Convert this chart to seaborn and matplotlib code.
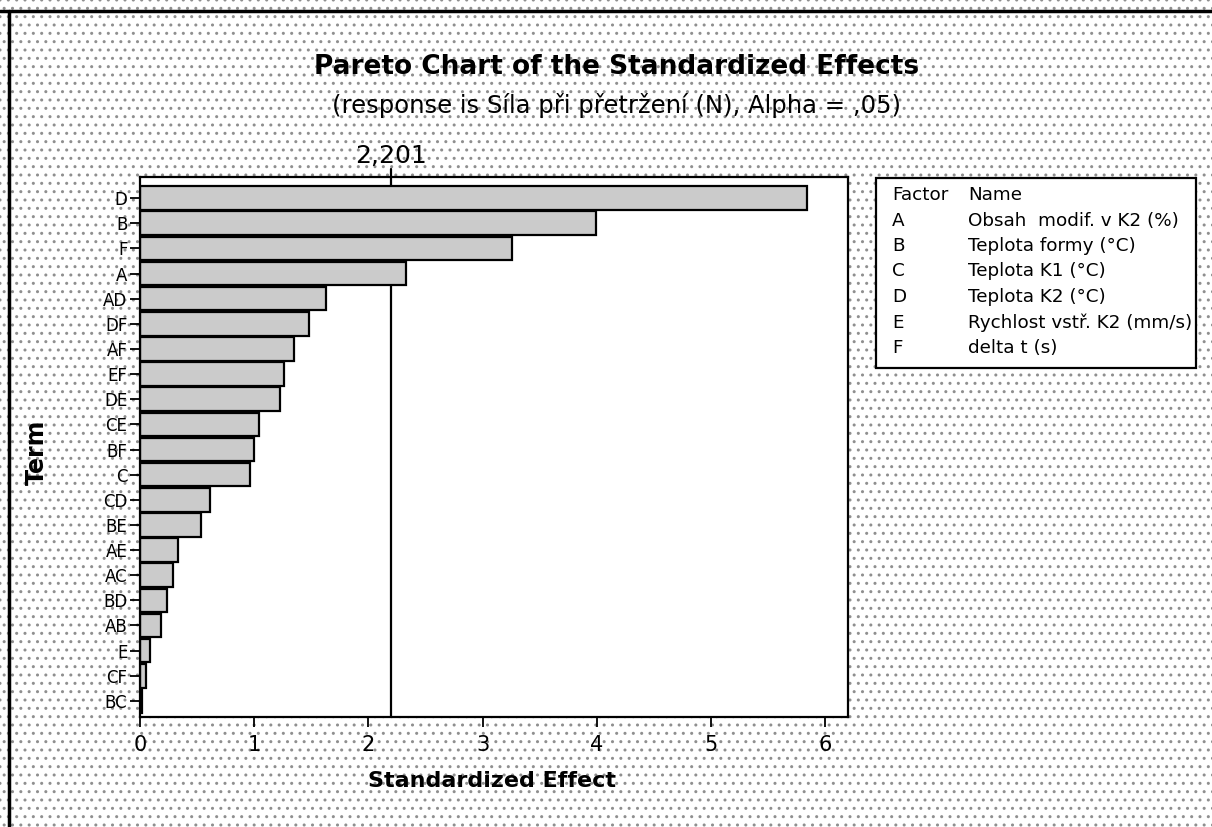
import matplotlib.pyplot as plt
import matplotlib.patches as mpatches
import matplotlib.lines as mlines
import seaborn as sns

sns.set_style("white")
plt.rcParams["font.family"] = ["DejaVu Sans"]
plt.rcParams["text.color"] = "black"
plt.rcParams["axes.labelcolor"] = "black"
plt.rcParams["xtick.color"] = "black"
plt.rcParams["ytick.color"] = "black"
plt.rcParams["hatch.linewidth"] = 1.0

# standardized effects, sorted as in the Pareto chart
TERMS = ["D", "B", "F", "A", "AD", "DF", "AF", "EF", "DE", "CE", "BF",
         "C", "CD", "BE", "AE", "AC", "BD", "AB", "E", "CF", "BC"]
EFFECTS = [5.84, 3.99, 3.26, 2.33, 1.63, 1.48, 1.35, 1.26, 1.23, 1.04, 1.00,
           0.96, 0.61, 0.53, 0.33, 0.29, 0.24, 0.18, 0.09, 0.05, 0.02]
CRIT_VALUE = 2.201

FACTORS = ["A", "B", "C", "D", "E", "F"]
FACTOR_NAMES = ["Obsah  modif. v K2 (%)", "Teplota formy (°C)", "Teplota K1 (°C)",
                "Teplota K2 (°C)", "Rychlost vstř. K2 (mm/s)", "delta t (s)"]

W, H = 1212, 827
fig = plt.figure(figsize=(W / 100, H / 100), dpi=100)

# stippled background like the original Minitab export
bg = mpatches.Rectangle((0, 0), 1, 1, transform=fig.transFigure,
                        facecolor="white", edgecolor="#8f8f8f", hatch="..",
                        linewidth=0, zorder=-10)
fig.patches.append(bg)
fig.add_artist(mlines.Line2D([0, 1], [1 - 11 / H, 1 - 11 / H], color="black", lw=2.5))
fig.add_artist(mlines.Line2D([9 / W, 9 / W], [0, 1 - 11 / H], color="black", lw=2.5))

ax = fig.add_axes([140 / W, 1 - 717 / H, (848 - 140) / W, (717 - 177) / H])
ax.set_facecolor("white")
ax.axvline(CRIT_VALUE, color="black", lw=1.6, zorder=0.5)
sns.barplot(x=EFFECTS, y=TERMS, orient="h", color="#cbcbcb", width=0.94,
            edgecolor="black", linewidth=1.6, saturation=1, ax=ax, zorder=2)

ax.set_xlim(0, 6.2)
ax.set_ylim(20.64, -0.84)
ax.set_xticks(range(7))
ax.tick_params(axis="x", labelsize=15, length=7, width=1.3, direction="out",
               bottom=True, pad=6)
ax.tick_params(axis="y", labelsize=12, length=7, width=1.3, direction="out",
               left=True, pad=2)
for s in ax.spines.values():
    s.set_color("black")
    s.set_linewidth(1.6)

ax.plot([CRIT_VALUE, CRIT_VALUE], [-0.84, -1.15], color="black", lw=1.6, clip_on=False)
ax.text(CRIT_VALUE, -1.2, "2,201", ha="center", va="bottom", fontsize=18)

ax.set_xlabel("Standardized Effect", fontsize=16, fontweight="bold")
ax.xaxis.set_label_coords((492 - 140) / 708, (717 - 771) / 540)
ax.set_ylabel("Term", fontsize=17, fontweight="bold")
ax.yaxis.set_label_coords((49 - 140) / 708, (717 - 452) / 540)

fig.text(617 / W, 1 - 67 / H, "Pareto Chart of the Standardized Effects",
         ha="center", va="center", fontsize=19, fontweight="bold")
fig.text(617 / W, 1 - 106 / H, "(response is Síla při přetržení (N), Alpha = ,05)",
         ha="center", va="center", fontsize=17.5)

# factor legend box
box = mpatches.Rectangle((876 / W, 1 - 368 / H), 320 / W, 190 / H,
                         transform=fig.transFigure, facecolor="white",
                         edgecolor="black", linewidth=1.6)
fig.patches.append(box)
rows_y = [195 + 25.5 * i for i in range(7)]
fig.text(892 / W, 1 - rows_y[0] / H, "Factor", va="center", fontsize=13.2)
fig.text(968 / W, 1 - rows_y[0] / H, "Name", va="center", fontsize=13.2)
for f, name, yy in zip(FACTORS, FACTOR_NAMES, rows_y[1:]):
    fig.text(892 / W, 1 - yy / H, f, va="center", fontsize=13.2)
    fig.text(968 / W, 1 - yy / H, name, va="center", fontsize=13.2)

fig.savefig("out.png", dpi=100)
